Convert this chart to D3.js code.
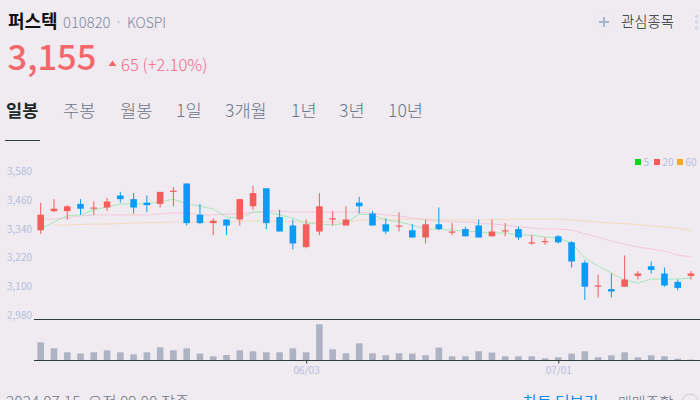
<!DOCTYPE html>
<html>
<head>
<meta charset="utf-8">
<script src="https://cdn.jsdelivr.net/npm/d3@7"></script>
<style>
html, body { margin: 0; padding: 0; background: #efebf1; overflow: hidden; }
svg { display: block; font-family: "Noto Sans CJK KR", "Noto Sans", sans-serif; }
</style>
</head>
<body>
<div id="chart"></div>
<script>
// trading days, oldest first
var dates = ["05/02","05/03","05/07","05/08","05/09","05/10","05/13","05/14","05/16","05/17",
	"05/20","05/21","05/22","05/23","05/24","05/27","05/28","05/29","05/30","05/31",
	"06/03","06/04","06/05","06/07","06/10","06/11","06/12","06/13","06/14","06/17",
	"06/18","06/19","06/20","06/21","06/24","06/25","06/26","06/27","06/28","07/01",
	"07/02","07/03","07/04","07/05","07/08","07/09","07/10","07/11","07/12","07/15"];
var opens = [3335,3415,3415,3445,3425,3430,3480,3465,3450,3445,
	3495,3530,3400,3365,3380,3380,3435,3510,3390,3355,
	3265,3330,3380,3355,3450,3405,3360,3350,3335,3305,
	3360,3325,3340,3355,3310,3330,3340,3280,3285,3310,
	3285,3200,3100,3090,3100,3145,3185,3155,3120,3145];
var highs = [3450,3465,3440,3465,3455,3470,3495,3490,3480,3495,
	3515,3530,3445,3385,3380,3465,3520,3510,3420,3380,
	3380,3490,3415,3435,3475,3415,3385,3410,3360,3380,
	3430,3365,3350,3380,3380,3365,3350,3315,3305,3315,
	3290,3210,3150,3155,3230,3165,3205,3180,3130,3165];
var lows = [3320,3410,3380,3400,3400,3415,3450,3405,3410,3430,
	3435,3355,3360,3315,3315,3355,3420,3340,3330,3255,
	3260,3315,3355,3355,3405,3355,3320,3330,3305,3280,
	3335,3315,3310,3305,3310,3310,3295,3275,3275,3280,
	3180,3045,3055,3055,3100,3130,3155,3100,3085,3130];
var closes = [3400,3425,3435,3425,3430,3455,3465,3430,3440,3495,
	3500,3365,3365,3375,3355,3465,3490,3365,3330,3280,
	3360,3435,3385,3380,3435,3355,3330,3355,3305,3360,
	3340,3330,3310,3305,3330,3335,3305,3285,3290,3285,
	3205,3100,3105,3080,3130,3155,3170,3105,3095,3155];
var volumes = [180,120,80,67,80,100,80,60,80,130,
	100,120,67,40,53,100,90,80,80,120,
	80,360,110,70,170,70,50,70,67,50,
	127,40,40,90,77,40,40,40,20,30,
	67,90,30,50,80,30,50,40,17,7];
var ma5 = [3340,3370,3395,3399,3420,3432,3445,3445,3445,3453,
	3465,3445,3436,3424,3390,3386,3411,3411,3399,3386,
	3365,3361,3357,3365,3403,3399,3378,3370,3357,3340,
	3340,3336,3332,3328,3324,3324,3315,3315,3307,3303,
	3282,3220,3186,3157,3128,3115,3132,3132,3132,3136];
var ma20 = [3382,3382,3386,3395,3399,3399,3399,3399,3399,3403,
	3407,3407,3399,3399,3403,3403,3411,3415,3415,3411,
	3411,3411,3411,3411,3411,3407,3399,3395,3386,3378,
	3374,3370,3370,3365,3361,3357,3349,3345,3340,3340,
	3336,3320,3307,3290,3278,3265,3257,3249,3232,3224];
var ma60 = [null,3357,3357,3359,3361,3361,3363,3365,3367,3367,
	3370,3370,3370,3370,3370,3372,3374,3374,3372,3370,
	3370,3370,3370,3370,3378,3378,3378,3380,3382,3382,
	3380,3378,3378,3378,3380,3380,3382,3382,3382,3382,
	3378,3374,3370,3365,3363,3359,3353,3349,3343,3336];
var priceTicks = [3580,3460,3340,3220,3100,2980];
var dateTicks = ["06/03","07/01"];
var tabs = ["일봉","주봉","월봉","1일","3개월","1년","3년","10년"];
var tabX = [6,63,120,176,225,291,339,388];
var legendNames = ["5","20","60"];
var legendX = [635,654,677];

var RED = "#f65c5a", BLUE = "#0a9cf5", LABEL = "#b5c0da", DARK = "#2b3d3d";

var svg = d3.select("#chart").append("svg").attr("width", 700).attr("height", 400);

// header
svg.append("text").attr("x", 8).attr("y", 28).attr("font-size", 18).attr("font-weight", 700).attr("fill", "#111").text("퍼스텍");
svg.append("text").attr("x", 63).attr("y", 28).attr("font-size", 14.8).attr("font-weight", 300).attr("fill", "#7f8899").text("010820");
svg.append("circle").attr("cx", 118.5).attr("cy", 22).attr("r", 1.5).attr("fill", "#ccd3e3");
svg.append("text").attr("x", 127).attr("y", 28).attr("font-size", 14).attr("font-weight", 300).attr("fill", "#7f8899").text("KOSPI");
svg.append("text").attr("x", 7.5).attr("y", 70).attr("font-size", 34.5).attr("font-weight", 500).attr("fill", "#f4686b").text("3,155");
svg.append("path").attr("d", "M108.5 66 L112.5 60.5 L116.5 66 Z").attr("fill", "#f4686b");
svg.append("text").attr("x", 121).attr("y", 71).attr("font-size", 16.6).attr("font-weight", 300).attr("fill", "#f4688c").text("65 (+2.10%)");

svg.selectAll(".tab").data(tabs).join("text").attr("class", "tab")
	.attr("x", (d, i) => tabX[i]).attr("y", 117).attr("font-size", 17.6)
	.attr("font-weight", (d, i) => i == 0 ? 700 : 300)
	.attr("fill", (d, i) => i == 0 ? "#1c2a2a" : "#6c7686")
	.text(d => d);
svg.append("line").attr("x1", 5).attr("x2", 40).attr("y1", 140.5).attr("y2", 140.5).attr("stroke", DARK);

// watch button
svg.append("circle").attr("cx", 604).attr("cy", 22).attr("r", 10.5).attr("fill", "none").attr("stroke", "#e9e8f0");
svg.append("path").attr("d", "M599 22 H609 M604 17 V27").attr("stroke", "#a3b4d4").attr("stroke-width", 1.8);
svg.append("text").attr("x", 621).attr("y", 27).attr("font-size", 14.4).attr("font-weight", 300).attr("fill", "#1c2a2a").text("관심종목");
svg.selectAll(".dot").data([16.5, 22, 28]).join("circle").attr("class", "dot")
	.attr("cx", 696.5).attr("cy", d => d).attr("r", 1.7).attr("fill", "#d0d8ea");

// scales
var x = d3.scalePoint().domain(dates).range([40.7, 691]);
var y = d3.scaleLinear().domain([3580, 2980]).range([171.5, 315.5]);
var yVol = d3.scaleLinear().domain([0, 400]).range([360.3, 320.3]);

// price labels
svg.selectAll(".plabel").data(priceTicks).join("text").attr("class", "plabel")
	.attr("x", 7).attr("y", d => y(d) + 3.5).attr("font-size", 10).attr("fill", LABEL)
	.text(d => d3.format(",")(d));

// moving averages
var maLine = d3.line().defined(d => d.v != null).x(d => x(d.date)).y(d => y(d.v));
[[ma60, "#f3dcbc"], [ma20, "#f3c8da"], [ma5, "#a6e8b8"]].forEach(([values, color]) => {
	svg.append("path")
		.datum(values.map((v, i) => ({date: dates[i], v: v})))
		.attr("fill", "none").attr("stroke", color).attr("stroke-width", 1)
		.attr("d", maLine);
});

// candles
var color = i => closes[i] >= opens[i] ? RED : BLUE;
svg.selectAll(".wick").data(dates).join("line").attr("class", "wick")
	.attr("x1", d => x(d)).attr("x2", d => x(d))
	.attr("y1", (d, i) => y(highs[i])).attr("y2", (d, i) => y(lows[i]))
	.attr("stroke", (d, i) => color(i)).attr("stroke-width", 1);
svg.selectAll(".body").data(dates).join("rect").attr("class", "body")
	.attr("x", d => x(d) - 3.3).attr("width", 6.6)
	.attr("y", (d, i) => y(Math.max(opens[i], closes[i])))
	.attr("height", (d, i) => Math.max(1, Math.abs(y(opens[i]) - y(closes[i]))))
	.attr("fill", (d, i) => color(i));

// volume
svg.selectAll(".vol").data(dates).join("rect").attr("class", "vol")
	.attr("x", d => x(d) - 3.3).attr("width", 6.6)
	.attr("y", (d, i) => yVol(volumes[i]))
	.attr("height", (d, i) => yVol(0) - yVol(volumes[i]))
	.attr("fill", "#adb3c3");

// frame lines and date axis
svg.append("line").attr("x1", 34).attr("x2", 700).attr("y1", 319.5).attr("y2", 319.5).attr("stroke", DARK);
var axis = svg.append("g").attr("transform", "translate(0,360.5)")
	.call(d3.axisBottom(x).tickValues(dateTicks).tickSize(3).tickPadding(3));
axis.select(".domain").remove();
axis.selectAll(".tick line").attr("stroke", DARK);
axis.selectAll(".tick text").attr("fill", LABEL).attr("font-size", 10)
	.attr("font-family", '"Noto Sans CJK KR", sans-serif');
svg.append("line").attr("x1", 34).attr("x2", 700).attr("y1", 360.5).attr("y2", 360.5).attr("stroke", DARK);

// legend
var legendColors = ["#0cd41f", RED, "#f5a623"];
svg.selectAll(".lsq").data(legendNames).join("rect").attr("class", "lsq")
	.attr("x", (d, i) => legendX[i]).attr("y", 159).attr("width", 6).attr("height", 6)
	.attr("fill", (d, i) => legendColors[i]);
svg.selectAll(".ltx").data(legendNames).join("text").attr("class", "ltx")
	.attr("x", (d, i) => legendX[i] + 8.5).attr("y", 165.5).attr("font-size", 10).attr("fill", LABEL)
	.text(d => d);

// footer, cut off by the window as in the reference
svg.append("text").attr("x", 6).attr("y", 408).attr("font-size", 15.6).attr("font-weight", 300).attr("fill", "#6c7686").text("2024.07.15. 오전 09:00 장중");
svg.append("text").attr("x", 523).attr("y", 408).attr("font-size", 15.6).attr("fill", "#0a8cf0").text("차트 더보기");
svg.append("text").attr("x", 618).attr("y", 408).attr("font-size", 15).attr("font-weight", 300).attr("fill", "#6c7686").text("매매종합");
svg.append("circle").attr("cx", 690).attr("cy", 402).attr("r", 8).attr("fill", "none").attr("stroke", "#c5ccd8");
</script>
</body>
</html>
